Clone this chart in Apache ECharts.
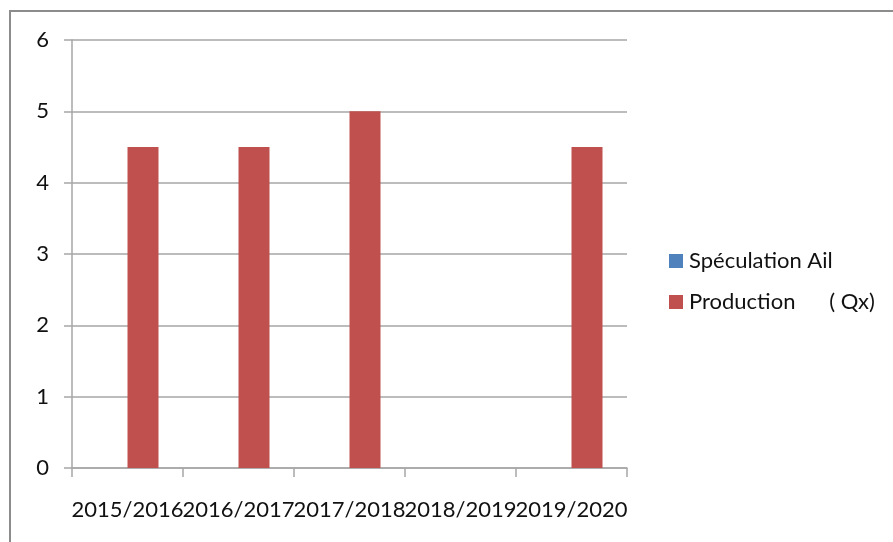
<!DOCTYPE html>
<html>
<head>
<meta charset="utf-8">
<script src="https://cdn.jsdelivr.net/npm/echarts@6/dist/echarts.min.js"></script>
<style>
    html, body { margin: 0; padding: 0; background: #fff; }
    #chart_main { width: 893px; height: 542px; }
</style>
</head>
<body>
<div id="chart_main"></div>
<script>
// données
var campagnes = ['2015/2016', '2016/2017', '2017/2018', '2018/2019', '2019/2020'];
var speculationAil = [null, null, null, null, null];
var production = [4.5, 4.5, 5, null, 4.5];
var yTicks = [0, 1, 2, 3, 4, 5, 6];

var myChart = echarts.init(document.getElementById('chart_main'));
var gris = '#a6a6a6';
var option = {
    animation: false,
    textStyle: { fontFamily: 'Lato' },
    graphic: [
        {
            type: 'rect',
            shape: { x: 10, y: 11, width: 1000, height: 600 },
            style: { fill: 'none', stroke: '#8c8c8c', lineWidth: 2 }
        }
    ],
    legend: {
        orient: 'vertical',
        left: 664,
        top: 245,
        itemWidth: 14,
        itemHeight: 14,
        itemGap: 19,
        icon: 'rect',
        textStyle: { fontSize: 22, color: '#111', fontFamily: 'Lato', padding: [0, 0, 0, 1] },
        data: ['Spéculation Ail', 'Production      ( Qx)']
    },
    grid: {
        left: 72,
        right: 266,
        top: 40,
        bottom: 74
    },
    xAxis: {
        type: 'category',
        data: campagnes,
        axisLine: { lineStyle: { color: gris, width: 1.5 } },
        axisTick: { show: true, length: 9, lineStyle: { color: gris, width: 1.5 } },
        axisLabel: {
            interval: 0,
            hideOverlap: false,
            margin: 31,
            fontSize: 22,
            color: '#111',
            fontFamily: 'Lato'
        }
    },
    yAxis: {
        type: 'value',
        min: 0,
        max: 6,
        interval: 1,
        axisLine: { show: true, lineStyle: { color: gris, width: 1.5 } },
        axisTick: { show: true, length: 8, lineStyle: { color: gris, width: 1.5 } },
        splitLine: { lineStyle: { color: gris, width: 1.5 } },
        axisLabel: {
            margin: 23,
            fontSize: 22,
            color: '#111',
            fontFamily: 'Lato',
            formatter: function (v) { return yTicks.indexOf(v) >= 0 ? String(v) : ''; }
        }
    },
    series: [
        {
            name: 'Spéculation Ail',
            type: 'bar',
            barWidth: 31,
            barGap: 0,
            itemStyle: { color: '#4f81bd' },
            data: speculationAil
        },
        {
            name: 'Production      ( Qx)',
            type: 'bar',
            barWidth: 31,
            barGap: 0,
            itemStyle: { color: '#c0504d' },
            data: production
        }
    ]
};
myChart.setOption(option);
</script>
</body>
</html>
